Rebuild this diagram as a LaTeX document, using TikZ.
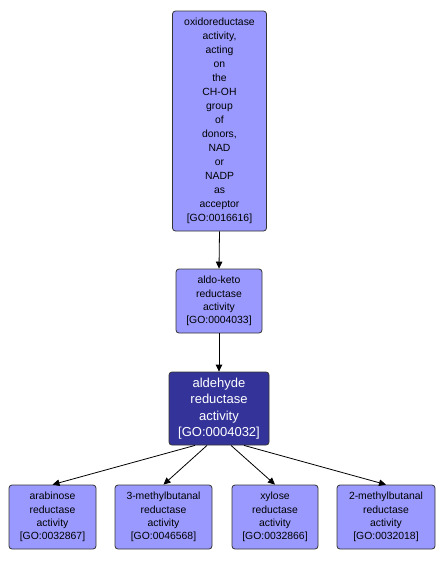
\documentclass[tikz,border=0pt]{standalone}
\usepackage{fontspec}
\setmainfont{Liberation Sans}
\usetikzlibrary{arrows.meta}
\definecolor{lightgo}{HTML}{9999FF}
\definecolor{darkgo}{HTML}{333399}
\tikzset{
  gobox/.style={draw=black!80, fill=lightgo, rounded corners=3pt, align=center, inner sep=0pt, line width=0.8pt,
    font=\fontsize{10.4}{14}\selectfont},
  gosmall/.style={gobox, font=\fontsize{10.4}{13.2}\selectfont},
  gosel/.style={gobox, fill=darkgo, text=white, font=\fontsize{13}{16.5}\selectfont},
  edge/.style={draw=black, line width=0.8pt, -{Triangle[length=7pt,width=6.5pt]}}
}
\begin{document}
\begin{tikzpicture}[x=1pt,y=-1pt]
\useasboundingbox (0,0) rectangle (444,563);
\node[gobox, minimum width=94pt, minimum height=220pt] (top) at (219.5,121)
 {oxidoreductase\\activity,\\acting\\on\\the\\CH-OH\\group\\of\\donors,\\NAD\\or\\NADP\\as\\acceptor\\{[GO:0016616]}};
\node[gosmall, minimum width=86pt, minimum height=64pt] (ak) at (219,301)
 {aldo-keto\\reductase\\activity\\{[GO:0004033]}};
\node[gosel, minimum width=100pt, minimum height=73pt] (ald) at (219,408.5)
 {aldehyde\\reductase\\activity\\{[GO:0004032]}};
\node[gosmall, minimum width=87pt, minimum height=64pt] (ara) at (52.5,517)
 {arabinose\\reductase\\activity\\{[GO:0032867]}};
\node[gosmall, minimum width=97pt, minimum height=64pt] (mb3) at (163.5,517)
 {3-methylbutanal\\reductase\\activity\\{[GO:0046568]}};
\node[gosmall, minimum width=86pt, minimum height=64pt] (xyl) at (275,517)
 {xylose\\reductase\\activity\\{[GO:0032866]}};
\node[gosmall, minimum width=98pt, minimum height=64pt] (mb2) at (386,517)
 {2-methylbutanal\\reductase\\activity\\{[GO:0032018]}};
\draw[edge] (top.south) -- (ak.north);
\draw[edge] (ak.south) -- (ald.north);
\draw[edge] (ald.south -| 195,0) -- (ara.north);
\draw[edge] (ald.south -| 207,0) -- (mb3.north);
\draw[edge] (ald.south -| 231,0) -- (xyl.north);
\draw[edge] (ald.south -| 244,0) -- (mb2.north);
\end{tikzpicture}
\end{document}
